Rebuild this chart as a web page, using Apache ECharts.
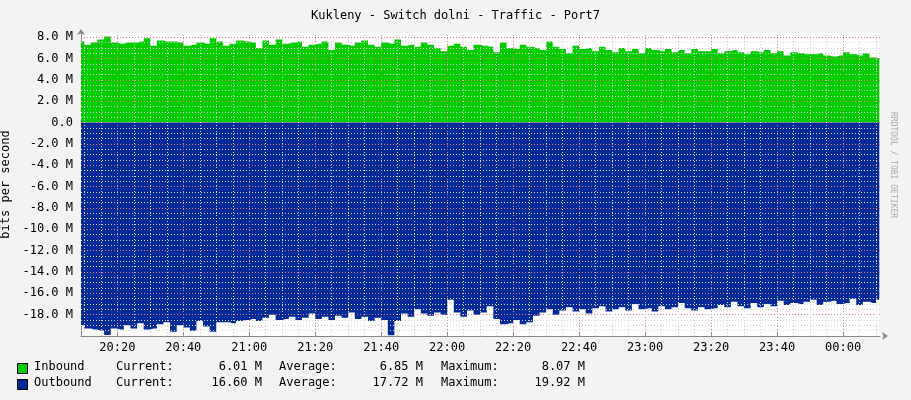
<!DOCTYPE html>
<html><head><meta charset="utf-8">
<script src="https://cdn.jsdelivr.net/npm/echarts@6/dist/echarts.min.js"></script>
<style>html,body{margin:0;padding:0;background:#f3f3f3}#c{width:911px;height:400px}</style>
</head><body><div id="c"></div>
<script>
// minutes since 20:00, one sample every 2 minutes
const startMinute = 9, stepMinutes = 2;
const inbound = [7.6,7.3,7.5,7.8,8.07,7.5,7.4,7.5,7.5,7.6,7.9,7.2,7.7,7.6,7.6,7.5,7.2,7.3,7.5,7.4,7.9,7.6,
7.2,7.4,7.7,7.6,7.5,7.0,7.7,7.3,7.8,7.4,7.5,7.6,7.1,7.3,7.4,7.6,6.8,7.5,7.3,7.2,7.5,7.7,7.3,7.1,
7.5,7.4,7.8,7.2,7.3,7.1,7.5,7.3,7.0,6.7,7.2,7.4,7.1,6.8,7.3,7.2,7.1,6.6,7.5,7.0,6.9,7.3,7.1,7.0,
6.8,7.6,7.1,6.9,6.5,7.2,6.9,7.0,6.7,7.1,6.8,6.6,7.0,6.7,6.9,6.5,7.0,6.8,6.7,6.9,6.6,6.8,6.5,6.9,6.7,6.7,
6.9,6.5,6.7,6.8,6.6,6.4,6.7,6.6,6.8,6.5,6.7,6.3,6.6,6.5,6.4,6.4,6.5,6.3,6.2,6.3,6.6,6.4,6.3,6.5,6.1,6.01];
const outbound = [19.0,19.3,19.4,19.5,19.9,19.3,19.4,19.0,19.3,18.8,19.4,19.3,18.9,18.7,19.6,19.0,19.2,19.5,18.6,19.1,19.6,18.7,
18.7,18.8,18.6,18.5,18.4,18.6,18.3,18.0,18.5,18.4,18.2,18.5,18.3,17.9,18.4,18.2,18.5,18.1,18.3,17.8,18.4,18.2,18.6,18.3,
18.5,19.92,18.6,17.9,18.2,17.5,17.9,18.1,17.8,18.0,16.6,17.8,18.2,17.6,18.0,17.8,17.2,18.4,18.9,18.8,18.5,18.9,18.7,18.1,
17.8,17.5,18.0,17.6,17.3,17.7,17.5,17.9,17.4,17.2,17.7,17.5,17.3,17.6,17.0,17.5,17.4,17.7,17.2,17.5,17.3,16.9,17.4,17.6,17.3,17.5,
17.4,17.1,17.3,16.8,17.2,17.4,16.9,17.3,17.0,17.2,16.7,17.1,16.9,17.0,16.8,16.6,17.1,16.8,16.7,17.0,16.9,16.5,17.1,16.8,16.9,16.6];
const timeTicks = [20,40,60,80,100,120,140,160,180,200,220,240];
const timeLabels = ['20:20','20:40','21:00','21:20','21:40','22:00','22:20','22:40','23:00','23:20','23:40','00:00'];
const yTicks = [-18,-16,-14,-12,-10,-8,-6,-4,-2,0,2,4,6,8];

const inData = inbound.map((v,i)=>[startMinute+i*stepMinutes, v]);
const outData = outbound.map((v,i)=>[startMinute+i*stepMinutes, -v]);

const font = 'DejaVu Sans Mono';
const mk = [];
for (let y=-19.5; y<8.4; y+=0.5) if (Math.abs(y%2)>0.01) mk.push({yAxis:y, lineStyle:{color:'#d4d4d4',type:[1,2],width:1}});
yTicks.forEach(y=>mk.push({yAxis:y, lineStyle:{color:'#e08080',type:[1,2],width:1}}));
for (let x=10; x<=250; x+=5) if (x%20!==0) mk.push({xAxis:x, lineStyle:{color:'#d4d4d4',type:[1,2],width:1}});
timeTicks.forEach(x=>mk.push({xAxis:x, lineStyle:{color:'#e08080',type:[1,2],width:1}}));

const chart = echarts.init(document.getElementById('c'));
const legendRow = (y, color, name, cur, avg, max) => [
  {type:'rect', left:17, top:y-5, shape:{width:10,height:10}, style:{fill:color, stroke:'#000', lineWidth:1}},
  {type:'text', left:34, top:y-7, style:{text:name, font:'12px '+font, fill:'#000'}},
  {type:'text', left:116, top:y-7, style:{text:'Current:', font:'12px '+font, fill:'#000'}},
  {type:'text', right:911-262, top:y-7, style:{text:cur+' M', font:'12px '+font, fill:'#000'}},
  {type:'text', left:279, top:y-7, style:{text:'Average:', font:'12px '+font, fill:'#000'}},
  {type:'text', right:911-423, top:y-7, style:{text:avg+' M', font:'12px '+font, fill:'#000'}},
  {type:'text', left:441, top:y-7, style:{text:'Maximum:', font:'12px '+font, fill:'#000'}},
  {type:'text', right:911-585, top:y-7, style:{text:max+' M', font:'12px '+font, fill:'#000'}}
];
chart.setOption({
  backgroundColor:'#f3f3f3',
  animation:false,
  title:{text:'Kukleny - Switch dolni - Traffic - Port7', left:'center', top:5,
    textStyle:{fontFamily:font, fontSize:12, fontWeight:'normal', color:'#000'}},
  grid:{left:81, right:31, top:33, bottom:64, backgroundColor:'#fff', show:true, borderWidth:0, containLabel:false, outerBoundsMode:'none'},
  xAxis:{type:'value', min:9, max:251.2,
    axisLine:{show:true, onZero:false, lineStyle:{color:'#888'}, symbol:['none','arrow'], symbolSize:[6,6], symbolOffset:[0,8]},
    axisTick:{show:true, customValues:timeTicks, length:-4, lineStyle:{color:'#888'}},
    axisLabel:{customValues:timeTicks, formatter:v=>timeLabels[timeTicks.indexOf(v)], fontFamily:font, fontSize:12, color:'#000', margin:6},
    splitLine:{show:false}},
  yAxis:{type:'value', min:-20, max:8.4, interval:2,
    name:'bits per second', nameLocation:'middle', nameGap:68, nameTextStyle:{fontFamily:font, fontSize:12, color:'#000'},
    axisLine:{show:true, lineStyle:{color:'#888'}, symbol:['none','arrow'], symbolSize:[6,6], symbolOffset:[0,4]},
    axisTick:{show:false},
    axisLabel:{formatter:v=> (v<=-20||v>8.1)?'':(v===0?'0.0':v.toFixed(1)+' M'), fontFamily:font, fontSize:12, color:'#000', margin:8},
    splitLine:{show:false}},
  series:[
    {type:'line', data:inData, step:'middle', showSymbol:false, lineStyle:{width:0}, areaStyle:{color:'#00cc00', opacity:1}, z:2},
    {type:'line', data:outData, step:'middle', showSymbol:false, lineStyle:{width:0}, areaStyle:{color:'#002a97', opacity:1}, z:2},
    {type:'line', data:[], z:5, markLine:{silent:true, symbol:'none', label:{show:false}, animation:false, data:mk}}
  ],
  graphic:[
    {type:'text', rotation:-Math.PI/2, x:897, y:112,
     style:{text:'RRDTOOL / TOBI OETIKER', font:'8px '+font, fill:'#aaa'}},
    ...legendRow(368,'#00cc00','Inbound','6.01','6.85','8.07'),
    ...legendRow(384,'#002a97','Outbound','16.60','17.72','19.92')
  ]
});
</script></body></html>
